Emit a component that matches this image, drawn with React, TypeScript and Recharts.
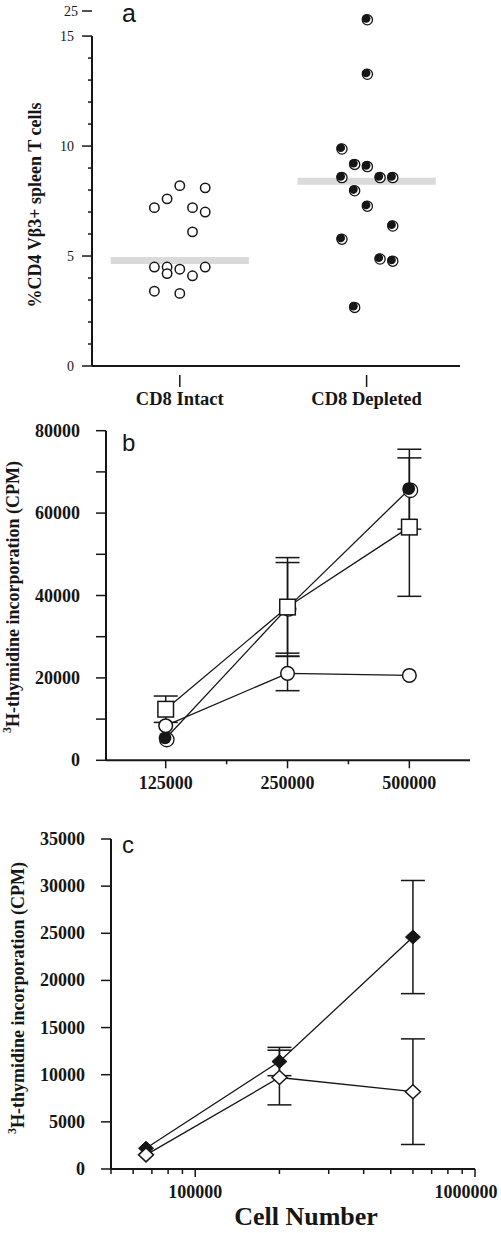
import React from "react";
import {
  ComposedChart,
  LineChart,
  Line,
  Scatter,
  XAxis,
  YAxis,
  ErrorBar,
  ReferenceLine,
} from "recharts";

const SERIF = '"Liberation Serif", "Times New Roman", serif';
const SANS = '"Liberation Sans", Arial, sans-serif';
const INK = "#161616";

// ---- panel a: one dot per mouse, grey bar = group mean
const groupNames = ["CD8 Intact", "CD8 Depleted"];
const intactValues = [7.2, 7.6, 8.2, 8.1, 7.2, 7.0, 6.1, 4.5, 4.5, 4.4, 4.5, 4.2, 4.1, 3.4, 3.3];
const intactLanes = [-2, -1, 0, 2, 1, 2, 1, -2, -1, 0, 2, -1, 1, -2, 0];
const depletedValues = [21.8, 13.3, 9.9, 9.2, 9.1, 8.6, 8.6, 8.6, 8.0, 7.3, 6.4, 5.8, 4.9, 4.8, 2.7];
const depletedLanes = [0, 0, -2, -1, 0, -2, 1, 2, -1, 0, 2, -2, 1, 2, -1];
const groupMeans = [4.8, 8.4];
const yLabelsA = [0, 5, 10, 15, 25];
const yMinorA = [1, 2, 3, 4, 6, 7, 8, 9, 11, 12, 13, 14];

// ---- panel b: proliferation vs cells plated (null = error bar hidden by marker)
const cellsB = [125000, 250000, 500000];
const xTicksB = [125000, 176777, 250000, 353553, 500000];
const filledB = [5300, 37000, 65800];
const filledErrB = [null, 11000, 9700];
const openB = [8400, 21100, 20600];
const openErrB = [null, 4200, null];
const squareB = [12400, 37200, 56600];
const squareErrB = [3200, 12000, 16800];
const yTicksB = [0, 10000, 20000, 30000, 40000, 50000, 60000, 70000, 80000];

// ---- panel c
const cellsC = [66700, 200000, 600000];
const filledC = [2200, 11400, 24600];
const filledErrC = [null, 1500, 6000];
const openC = [1500, 9700, 8200];
const openErrC = [null, 2900, 5600];
const yTicksC = [0, 5000, 10000, 15000, 20000, 25000, 30000, 35000];
const decadesC = [100000, 1000000];
const xTicksC = [
  50000, 60000, 70000, 80000, 90000, 100000, 200000, 300000, 400000, 500000,
  600000, 700000, 800000, 900000, 1000000,
];

// broken y axis in panel a: 15..25 squeezed into the top sliver
const BREAK_AT = 15;
const ABOVE_BREAK = 0.114;
const toAxis = (v: number) => (v <= BREAK_AT ? v : BREAK_AT + (v - BREAK_AT) * ABOVE_BREAK);
const fromAxis = (a: number) => (a <= BREAK_AT ? a : BREAK_AT + (a - BREAK_AT) / ABOVE_BREAK);

const X_MIN_A = 0.53;
const LANE = 0.068;
const toPoints = (values: number[], lanes: number[], group: number) =>
  values.map((v, i) => ({ x: group + lanes[i] * LANE, y: toAxis(v) }));

const intactPoints = toPoints(intactValues, intactLanes, 1);
const depletedPoints = toPoints(depletedValues, depletedLanes, 2);

const rowsB = cellsB.map((c, i) => ({
  cells: c,
  filled: filledB[i],
  filledErr: filledErrB[i],
  open: openB[i],
  openErr: openErrB[i],
  square: squareB[i],
  squareErr: squareErrB[i],
}));

const rowsC = cellsC.map((c, i) => ({
  cells: c,
  filled: filledC[i],
  filledErr: filledErrC[i],
  open: openC[i],
  openErr: openErrC[i],
}));

// markers
const ShadowDot = ({ cx, cy, r }: { cx: number; cy: number; r: number }) => {
  const o = r * 0.15;
  return (
    <g>
      <circle cx={cx + o} cy={cy + o} r={r} fill="#fff" stroke={INK} strokeWidth={1.3} />
      <circle cx={cx - o * 0.6} cy={cy - o * 0.6} r={r - 0.8} fill={INK} />
    </g>
  );
};

const OpenDotA = (p: any) => (
  <circle cx={p.cx} cy={p.cy} r={4.7} fill="#fff" stroke={INK} strokeWidth={1.5} />
);
const FilledDotA = (p: any) => <ShadowDot cx={p.cx} cy={p.cy} r={5.1} />;

const filledDotB = (p: any) => <ShadowDot key={`fb-${p.index}`} cx={p.cx} cy={p.cy} r={7.2} />;
const openDotB = (p: any) => (
  <circle key={`ob-${p.index}`} cx={p.cx} cy={p.cy} r={6.8} fill="#fff" stroke={INK} strokeWidth={1.5} />
);
const squareDotB = (p: any) => (
  <rect
    key={`sb-${p.index}`}
    x={p.cx - 7.8}
    y={p.cy - 7.8}
    width={15.6}
    height={15.6}
    fill="#fff"
    stroke={INK}
    strokeWidth={1.5}
  />
);

const diamond = (cx: number, cy: number) =>
  `M${cx},${cy - 7} L${cx + 7.5},${cy} L${cx},${cy + 7} L${cx - 7.5},${cy} Z`;
const filledDiamond = (p: any) => (
  <path key={`fc-${p.index}`} d={diamond(p.cx, p.cy)} fill={INK} stroke={INK} strokeWidth={1} />
);
const openDiamond = (p: any) => (
  <path key={`oc-${p.index}`} d={diamond(p.cx, p.cy)} fill="#fff" stroke={INK} strokeWidth={1.5} />
);

// ticks
const TickYA = (props: any) => {
  const { x, y, payload } = props;
  const real = Math.round(fromAxis(payload.value));
  const major = yLabelsA.includes(real);
  return (
    <g>
      <line x1={x - (major ? 10 : 4)} x2={x} y1={y} y2={y} stroke={INK} strokeWidth={1.5} />
      {major && (
        <text
          x={x - (real > BREAK_AT ? 14 : 18)}
          y={y}
          dy={5}
          textAnchor="end"
          fontFamily={SERIF}
          fontSize={14}
          fill={INK}
        >
          {real}
        </text>
      )}
    </g>
  );
};

const TickXA = (props: any) => {
  const { x, y, payload } = props;
  return (
    <g>
      <line x1={x} x2={x} y1={y + 9} y2={y + 21} stroke={INK} strokeWidth={1.5} />
      <text
        x={x}
        y={y + 39}
        textAnchor="middle"
        fontFamily={SERIF}
        fontWeight="bold"
        fontSize={18.5}
        fill={INK}
      >
        {groupNames[payload.value - 1]}
      </text>
    </g>
  );
};

const TickYB = (props: any) => {
  const { x, y, payload } = props;
  const major = payload.value % 20000 === 0;
  return (
    <g>
      <line x1={x - 10} x2={x} y1={y} y2={y} stroke={INK} strokeWidth={1.5} />
      {major && (
        <text x={x - 26} y={y} dy={6} textAnchor="end" fontFamily={SERIF} fontWeight="bold" fontSize={18} fill={INK}>
          {payload.value}
        </text>
      )}
    </g>
  );
};

const TickXB = (props: any) => {
  const { x, y, payload } = props;
  const major = cellsB.includes(payload.value);
  return (
    <g>
      <line x1={x} x2={x} y1={y} y2={y + (major ? 8 : 4)} stroke={INK} strokeWidth={1.5} />
      {major && (
        <text x={x} y={y + 29} textAnchor="middle" fontFamily={SERIF} fontWeight="bold" fontSize={18} fill={INK}>
          {payload.value}
        </text>
      )}
    </g>
  );
};

const TickYC = (props: any) => {
  const { x, y, payload } = props;
  return (
    <g>
      <line x1={x - 10} x2={x} y1={y} y2={y} stroke={INK} strokeWidth={1.5} />
      <text x={x - 26} y={y} dy={6} textAnchor="end" fontFamily={SERIF} fontWeight="bold" fontSize={18} fill={INK}>
        {payload.value}
      </text>
    </g>
  );
};

const TickXC = (props: any) => {
  const { x, y, payload } = props;
  const v = payload.value;
  const major = decadesC.includes(v);
  const last = v === decadesC[decadesC.length - 1];
  return (
    <g>
      <line x1={x} x2={x} y1={y} y2={y + (major ? 8 : 5)} stroke={INK} strokeWidth={1.5} />
      {major && (
        <text
          x={last ? x - 9 : x}
          y={y + 29}
          textAnchor="middle"
          fontFamily={SERIF}
          fontWeight="bold"
          fontSize={18}
          fill={INK}
        >
          {v}
        </text>
      )}
    </g>
  );
};

const axisStroke = { stroke: INK, strokeWidth: 2 };

const VerticalTitle = ({ x, y, size, children }: any) => (
  <text
    x={x}
    y={y}
    transform={`rotate(-90 ${x} ${y})`}
    textAnchor="middle"
    dominantBaseline="central"
    fontFamily={SERIF}
    fontWeight="bold"
    fontSize={size}
    fill={INK}
  >
    {children}
  </text>
);

export default function App() {
  return (
    <div style={{ position: "absolute", left: 0, top: 0, width: 501, height: 1233, background: "#fff" }}>
      {/* a */}
      <div style={{ position: "absolute", left: 0, top: 0 }}>
        <ComposedChart
          width={501}
          height={420}
          margin={{ top: 11, right: 41, bottom: 14, left: 32 }}
          style={{ overflow: "visible" }}
        >
          <XAxis
            type="number"
            dataKey="x"
            domain={[X_MIN_A, 2.5]}
            ticks={[1, 2]}
            interval={0}
            tick={TickXA}
            tickLine={false}
            tickSize={0}
            tickMargin={0}
            axisLine={axisStroke}
            height={40}
            allowDataOverflow
          />
          <YAxis
            type="number"
            dataKey="y"
            domain={[0, toAxis(25)]}
            ticks={[...yLabelsA, ...yMinorA].map(toAxis)}
            interval={0}
            tick={TickYA}
            tickLine={false}
            tickSize={0}
            tickMargin={0}
            axisLine={false}
            width={60}
            allowDataOverflow
          />
          <ReferenceLine
            segment={[
              { x: X_MIN_A, y: 0 },
              { x: X_MIN_A, y: BREAK_AT },
            ]}
            stroke={INK}
            strokeWidth={2}
          />
          {groupMeans.map((m, i) => (
            <ReferenceLine
              key={groupNames[i]}
              segment={[
                { x: i + 1 - 0.37, y: toAxis(m) },
                { x: i + 1 + 0.37, y: toAxis(m) },
              ]}
              stroke="#dadada"
              strokeWidth={7}
            />
          ))}
          <Scatter data={intactPoints} shape={OpenDotA} isAnimationActive={false} />
          <Scatter data={depletedPoints} shape={FilledDotA} isAnimationActive={false} />
        </ComposedChart>
      </div>

      {/* b */}
      <div style={{ position: "absolute", left: 0, top: 410 }}>
        <LineChart
          width={501}
          height={400}
          data={rowsB}
          margin={{ top: 20.7, right: 31, bottom: 9.7, left: 36 }}
          style={{ overflow: "visible" }}
        >
          <XAxis
            type="number"
            dataKey="cells"
            scale="log"
            domain={[89000, 706000]}
            ticks={xTicksB}
            interval={0}
            tick={TickXB}
            tickLine={false}
            tickSize={0}
            tickMargin={0}
            axisLine={axisStroke}
            height={40}
            allowDataOverflow
          />
          <YAxis
            type="number"
            domain={[0, 80000]}
            ticks={yTicksB}
            interval={0}
            tick={TickYB}
            tickLine={false}
            tickSize={0}
            tickMargin={0}
            axisLine={axisStroke}
            width={70}
          />
          <Line dataKey="filled" stroke={INK} strokeWidth={1.3} dot={filledDotB} activeDot={false} isAnimationActive={false}>
            <ErrorBar dataKey="filledErr" width={12} stroke={INK} strokeWidth={1.5} direction="y" />
          </Line>
          <Line dataKey="square" stroke={INK} strokeWidth={1.3} dot={squareDotB} activeDot={false} isAnimationActive={false}>
            <ErrorBar dataKey="squareErr" width={12} stroke={INK} strokeWidth={1.5} direction="y" />
          </Line>
          <Line dataKey="open" stroke={INK} strokeWidth={1.3} dot={openDotB} activeDot={false} isAnimationActive={false}>
            <ErrorBar dataKey="openErr" width={12} stroke={INK} strokeWidth={1.5} direction="y" />
          </Line>
        </LineChart>
      </div>

      {/* c */}
      <div style={{ position: "absolute", left: 0, top: 810 }}>
        <LineChart
          width={501}
          height={423}
          data={rowsC}
          margin={{ top: 29, right: 26, bottom: 14, left: 41 }}
          style={{ overflow: "visible" }}
        >
          <XAxis
            type="number"
            dataKey="cells"
            scale="log"
            domain={[50000, 1000000]}
            ticks={xTicksC}
            interval={0}
            tick={TickXC}
            tickLine={false}
            tickSize={0}
            tickMargin={0}
            axisLine={axisStroke}
            height={50}
            allowDataOverflow
          />
          <YAxis
            type="number"
            domain={[0, 35000]}
            ticks={yTicksC}
            interval={0}
            tick={TickYC}
            tickLine={false}
            tickSize={0}
            tickMargin={0}
            axisLine={axisStroke}
            width={70}
          />
          <Line dataKey="filled" stroke={INK} strokeWidth={1.3} dot={filledDiamond} activeDot={false} isAnimationActive={false}>
            <ErrorBar dataKey="filledErr" width={12} stroke={INK} strokeWidth={1.5} direction="y" />
          </Line>
          <Line dataKey="open" stroke={INK} strokeWidth={1.3} dot={openDiamond} activeDot={false} isAnimationActive={false}>
            <ErrorBar dataKey="openErr" width={12} stroke={INK} strokeWidth={1.5} direction="y" />
          </Line>
        </LineChart>
      </div>

      {/* panel letters and axis titles */}
      <svg
        width={501}
        height={1233}
        style={{ position: "absolute", left: 0, top: 0, pointerEvents: "none" }}
      >
        <text x={122} y={22} fontFamily={SANS} fontSize={25} fill={INK}>a</text>
        <text x={122} y={451} fontFamily={SANS} fontSize={24} fill={INK}>b</text>
        <text x={122} y={853} fontFamily={SANS} fontSize={24} fill={INK}>c</text>

        <VerticalTitle x={35} y={205} size={18}>%CD4 Vβ3+ spleen T cells</VerticalTitle>
        <VerticalTitle x={13} y={597} size={18}>
          <tspan fontSize={12} dy={-6}>3</tspan>
          <tspan dy={6}>H-thymidine incorporation (CPM)</tspan>
        </VerticalTitle>
        <VerticalTitle x={18} y={998} size={18}>
          <tspan fontSize={12} dy={-6}>3</tspan>
          <tspan dy={6}>H-thymidine incorporation (CPM)</tspan>
        </VerticalTitle>

        <text x={306} y={1225} textAnchor="middle" fontFamily={SERIF} fontWeight="bold" fontSize={26} fill={INK}>
          Cell Number
        </text>
      </svg>
    </div>
  );
}
